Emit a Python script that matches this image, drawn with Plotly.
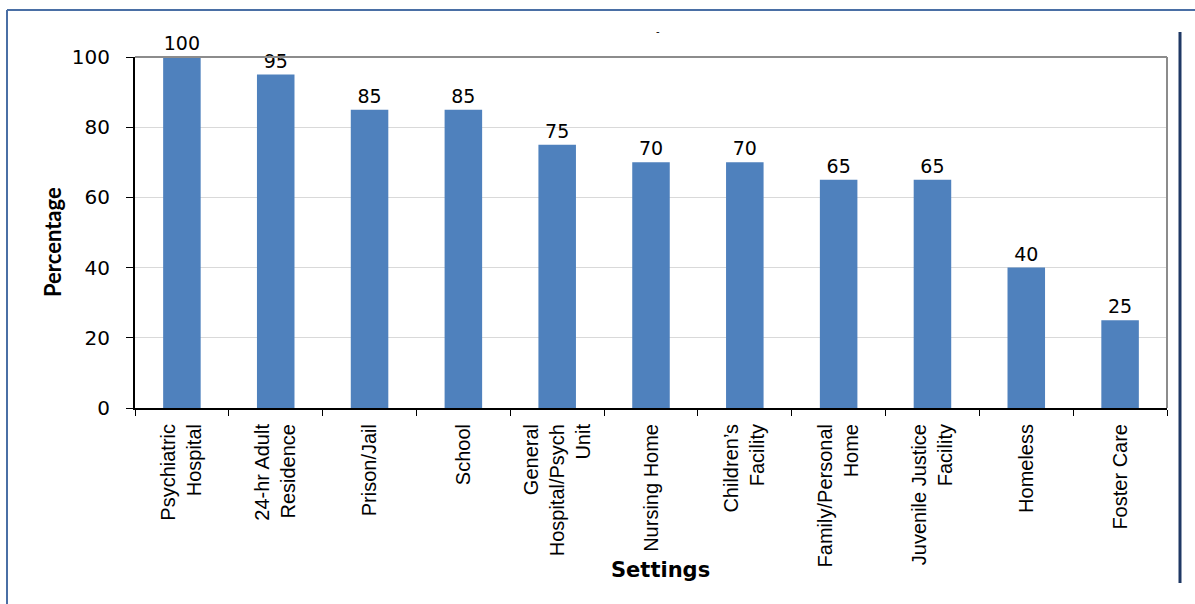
import plotly.graph_objects as go

categories = ["Psychiatric<br>Hospital", "24-hr Adult<br>Residence", "Prison/Jail", "School",
              "General<br>Hospital/Psych<br>Unit", "Nursing Home", "Children\u2019s<br>Facility",
              "Family/Personal<br>Home", "Juvenile Justice<br>Facility", "Homeless", "Foster Care"]
values = [100, 95, 85, 85, 75, 70, 70, 65, 65, 40, 25]
y_ticks = [0, 20, 40, 60, 80, 100]

W, H = 1195, 604
L, R, T, B = 135, 1167, 57, 408

def px(x):
    return (x - L) / (R - L)

def py(y):
    return (B - y) / (B - T)

fig = go.Figure(go.Bar(
    x=categories, y=values,
    marker=dict(color="#4f81bd", line=dict(width=0)),
    text=[str(v) for v in values], textposition="outside",
    textfont=dict(family="DejaVu Sans", size=19, color="#000000"),
    cliponaxis=False,
))

shapes = [
    dict(type="line", xref="paper", yref="paper", x0=0, x1=1, y0=1, y1=1,
         line=dict(color="#8c8c8c", width=2)),
    dict(type="line", xref="paper", yref="paper", x0=1, x1=1, y0=0, y1=1,
         line=dict(color="#8c8c8c", width=2)),
    dict(type="line", xref="paper", yref="paper", x0=px(7), x1=px(1195), y0=py(10), y1=py(10),
         line=dict(color="#4a6fa5", width=2)),
    dict(type="line", xref="paper", yref="paper", x0=px(7), x1=px(7), y0=py(10), y1=py(604),
         line=dict(color="#4a6fa5", width=2)),
    dict(type="line", xref="paper", yref="paper", x0=px(1180), x1=px(1180), y0=py(32), y1=py(583),
         line=dict(color="#1f3864", width=3)),
]

annotations = [
    dict(text="<b>Settings</b>", xref="paper", yref="paper", x=px(660), y=py(570),
         showarrow=False, font=dict(family="DejaVu Sans", size=21, color="#000000"),
         xanchor="center", yanchor="middle"),
    dict(text="<b>Percentage</b>", xref="paper", yref="paper", x=px(52), y=py(242),
         showarrow=False, textangle=-90, font=dict(family="Lato", size=22, color="#000000"),
         xanchor="center", yanchor="middle"),
    dict(text="-", xref="paper", yref="paper", x=px(658), y=py(32),
         showarrow=False, font=dict(family="DejaVu Sans", size=10, color="#000000"),
         xanchor="center", yanchor="middle"),
]

fig.update_layout(
    width=W, height=H,
    margin=dict(l=L, r=W - R, t=T, b=H - B),
    paper_bgcolor="white", plot_bgcolor="white",
    bargap=0.6, showlegend=False,
    shapes=shapes, annotations=annotations,
    xaxis=dict(
        type="category", tickangle=-90, tickson="boundaries",
        ticks="outside", ticklen=6, tickcolor="#000000", tickwidth=1,
        showline=True, linecolor="#000000", linewidth=2,
        tickfont=dict(family="Liberation Sans", size=20, color="#000000"),
        showgrid=False, ticklabelstandoff=6,
    ),
    yaxis=dict(
        range=[0, 100], tickvals=y_ticks, ticks="outside", ticklen=7,
        tickcolor="#000000", tickwidth=1,
        showline=True, linecolor="#000000", linewidth=2,
        tickfont=dict(family="DejaVu Sans", size=20, color="#000000"),
        showgrid=True, gridcolor="#d9d9d9", gridwidth=1,
        ticklabelstandoff=12, zeroline=False,
    ),
)

fig.write_html("out.html")
